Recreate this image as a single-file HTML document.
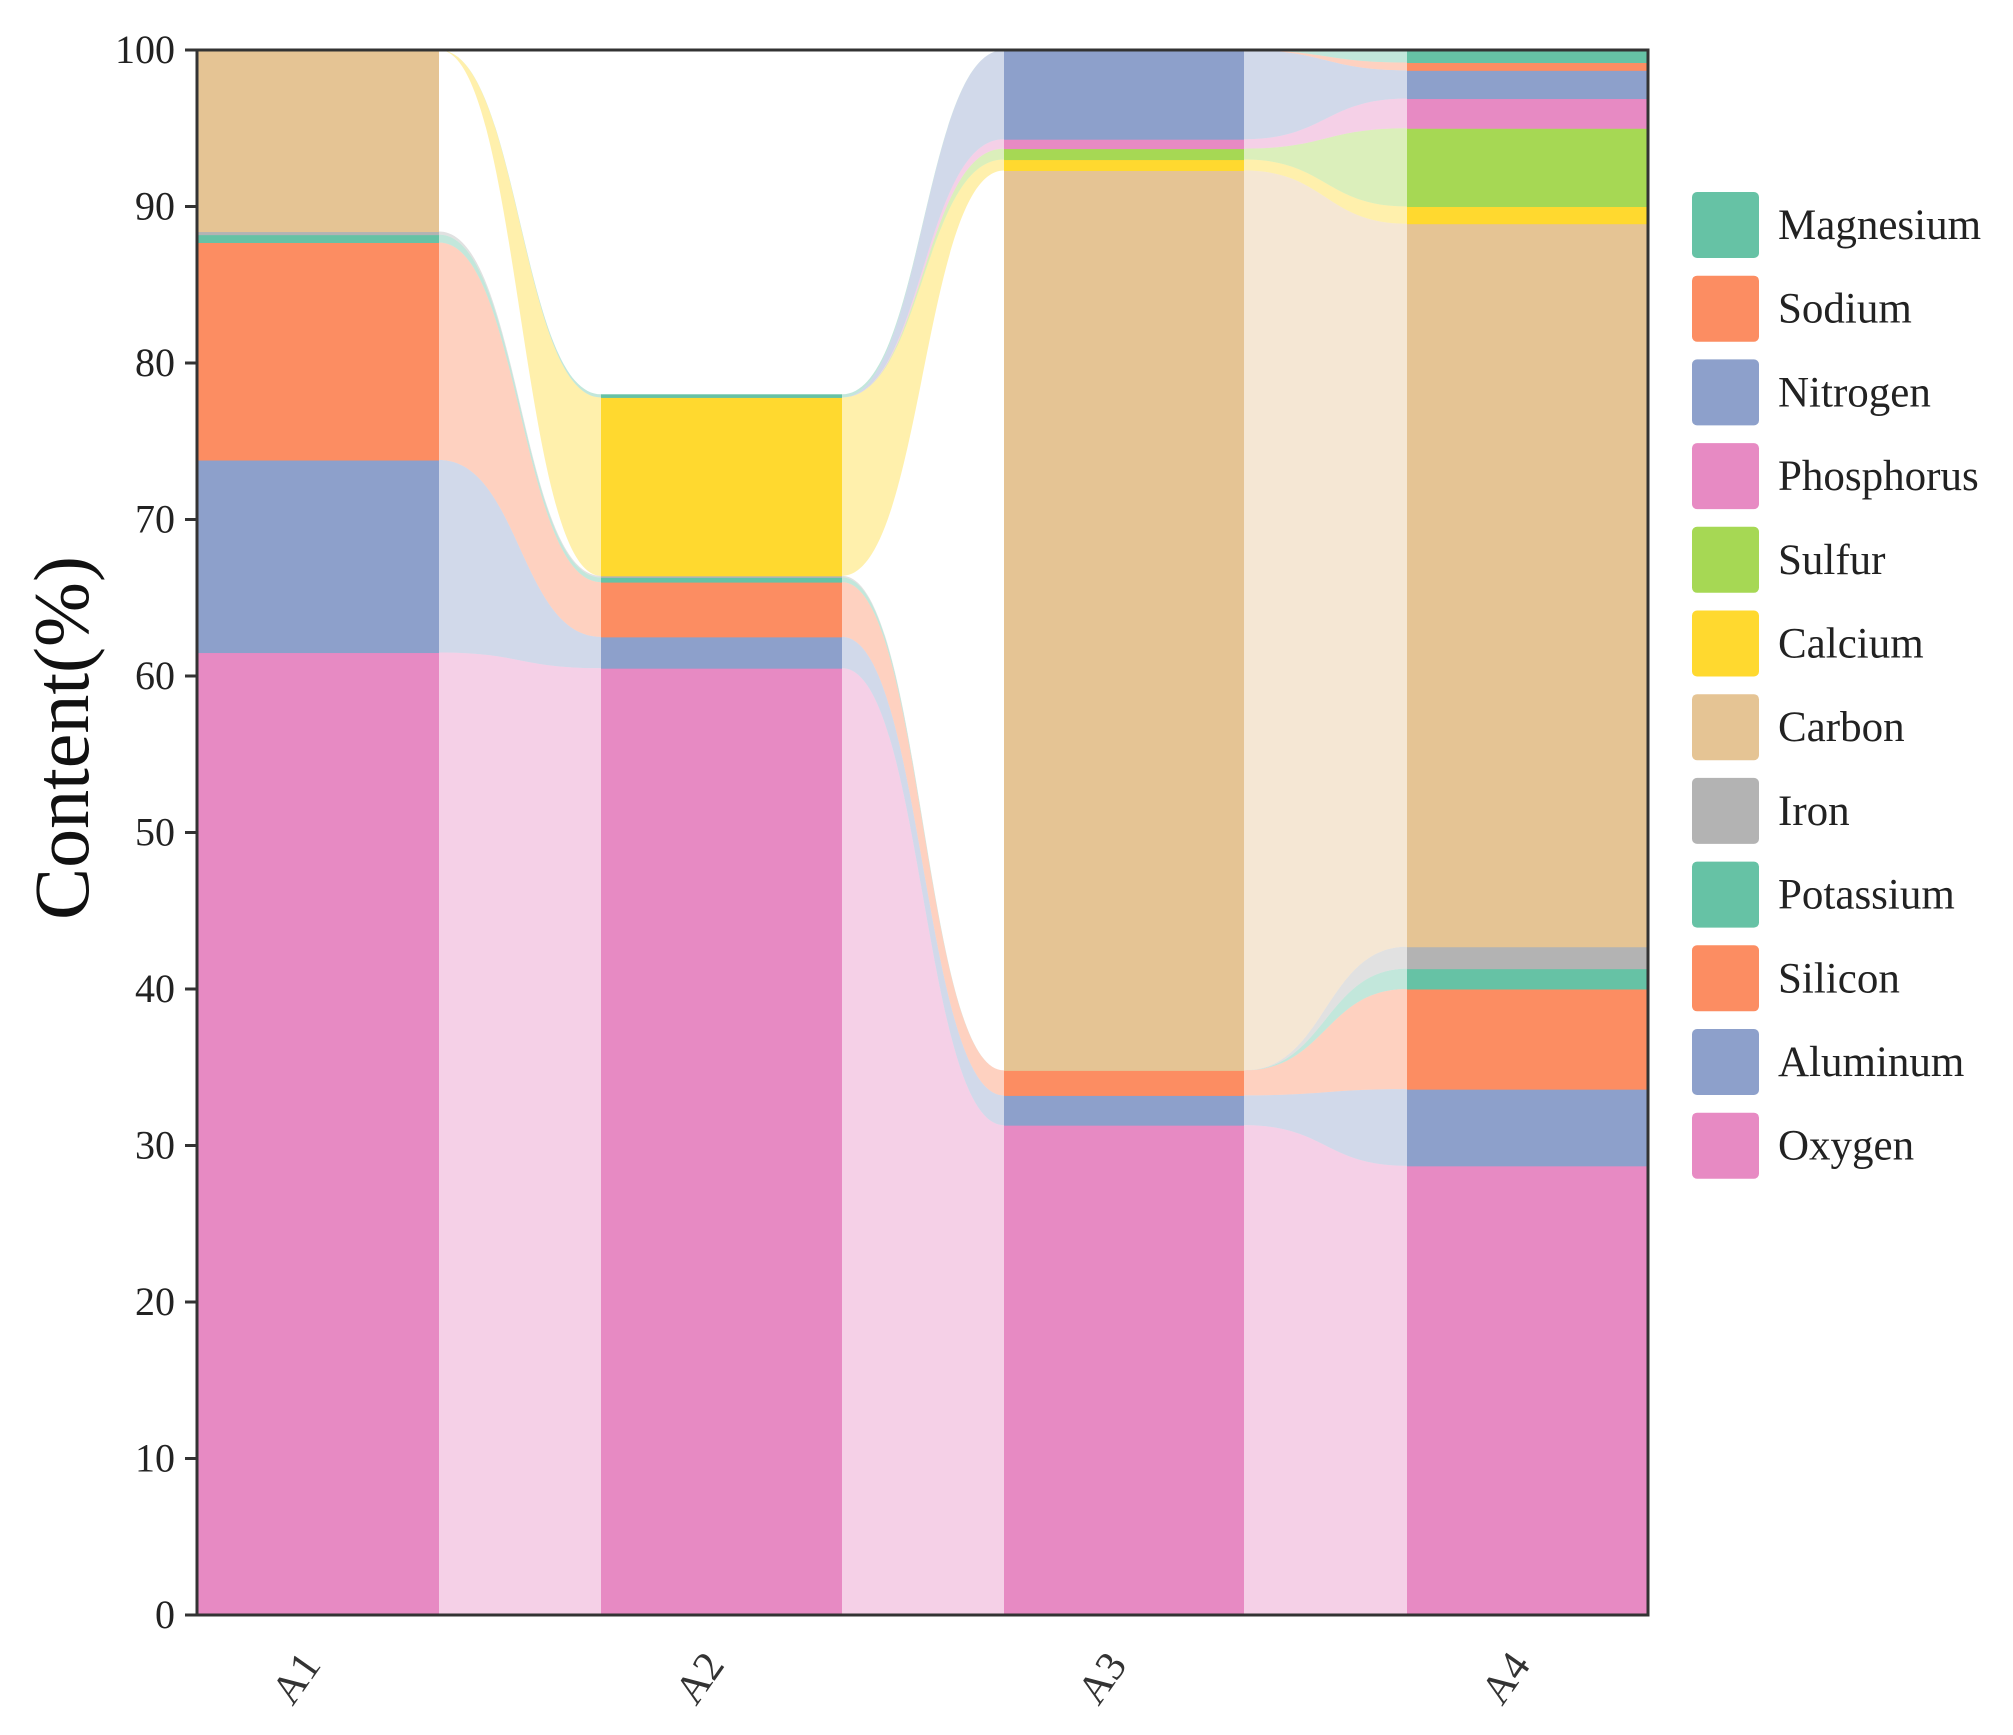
<!DOCTYPE html>
<html><head><meta charset="utf-8"><style>
body{margin:0;background:#fff;}
svg{display:block;font-family:"Liberation Serif",serif;}
</style></head><body>
<svg id="s" width="2013" height="1735" xmlns="http://www.w3.org/2000/svg"></svg>
<script>
const s=document.getElementById('s');
const X0=197,X1=1648,Y0=1615,Y1=50;
const y=v=>Y0-v*(Y0-Y1)/100;
const bars=[[197,439],[601,842],[1004,1244],[1407,1648]];
const cols=["#e78ac3","#8da0cb","#fc8d62","#66c2a5","#b3b3b3","#e5c494","#ffd92f","#a6d854","#e78ac3","#8da0cb","#fc8d62","#66c2a5"];
const data=[
[61.5,12.3,13.9,0.5,0.2,11.6,0,0,0,0,0,0],
[60.5,2.0,3.5,0.3,0.1,0,11.4,0,0,0,0,0.2],
[31.3,1.9,1.6,0,0,57.5,0.7,0.7,0.6,5.7,0,0],
[28.7,4.9,6.4,1.3,1.4,46.2,1.1,5.0,1.9,1.8,0.5,0.8]];
let h='';
const cum=data.map(d=>{let a=[0];d.forEach(v=>a.push(a[a.length-1]+v));return a;});
for(let b=0;b<3;b++){
 const xa=bars[b][1],xb=bars[b+1][0],xm=(xa+xb)/2;
 for(let i=0;i<12;i++){
  if(i==5&&b<2)continue;
  const a0=cum[b][i],a1=cum[b][i+1],b0=cum[b+1][i],b1=cum[b+1][i+1];
  if(a1-a0<=0&&b1-b0<=0)continue;
  h+=`<path d="M${xa},${y(a1)} C${xm},${y(a1)} ${xm},${y(b1)} ${xb},${y(b1)} L${xb},${y(b0)} C${xm},${y(b0)} ${xm},${y(a0)} ${xa},${y(a0)} Z" fill="${cols[i]}" fill-opacity="0.4"/>`;
 }
}
for(let b=0;b<4;b++){
 for(let i=0;i<12;i++){
  const v=data[b][i]; if(v<=0)continue;
  h+=`<rect x="${bars[b][0]}" y="${y(cum[b][i+1])}" width="${bars[b][1]-bars[b][0]}" height="${v*(Y0-Y1)/100+0.5}" fill="${cols[i]}"/>`;
 }
}
h+=`<rect x="${X0}" y="${Y1}" width="${X1-X0}" height="${Y0-Y1}" fill="none" stroke="#333" stroke-width="3"/>`;
for(let t=0;t<=100;t+=10){
 h+=`<line x1="${X0-12}" x2="${X0}" y1="${y(t)}" y2="${y(t)}" stroke="#333" stroke-width="3"/>`;
 h+=`<text x="${X0-22}" y="${y(t)+13}" font-size="40" text-anchor="end" fill="#222">${t}</text>`;
}
["A1","A2","A3","A4"].forEach((l,i)=>{
 const cx=(bars[i][0]+bars[i][1])/2;
 h+=`<text transform="translate(${cx+4},${1665}) rotate(-55)" font-size="42" text-anchor="end" fill="#333">${l}</text>`;
});
h+=`<text transform="translate(88,738) rotate(-90)" font-size="78" text-anchor="middle" fill="#111">Content(%)</text>`;
const leg=["Magnesium","Sodium","Nitrogen","Phosphorus","Sulfur","Calcium","Carbon","Iron","Potassium","Silicon","Aluminum","Oxygen"];
const lc=["#66c2a5","#fc8d62","#8da0cb","#e78ac3","#a6d854","#ffd92f","#e5c494","#b3b3b3","#66c2a5","#fc8d62","#8da0cb","#e78ac3"];
leg.forEach((n,i)=>{
 const cy=225+i*83.7;
 h+=`<rect x="1692" y="${cy-33}" width="67" height="66" rx="5" fill="${lc[i]}"/>`;
 h+=`<text x="1778" y="${cy+14}" font-size="43" fill="#222">${n}</text>`;
});
s.innerHTML=h;
</script>
</body></html>
